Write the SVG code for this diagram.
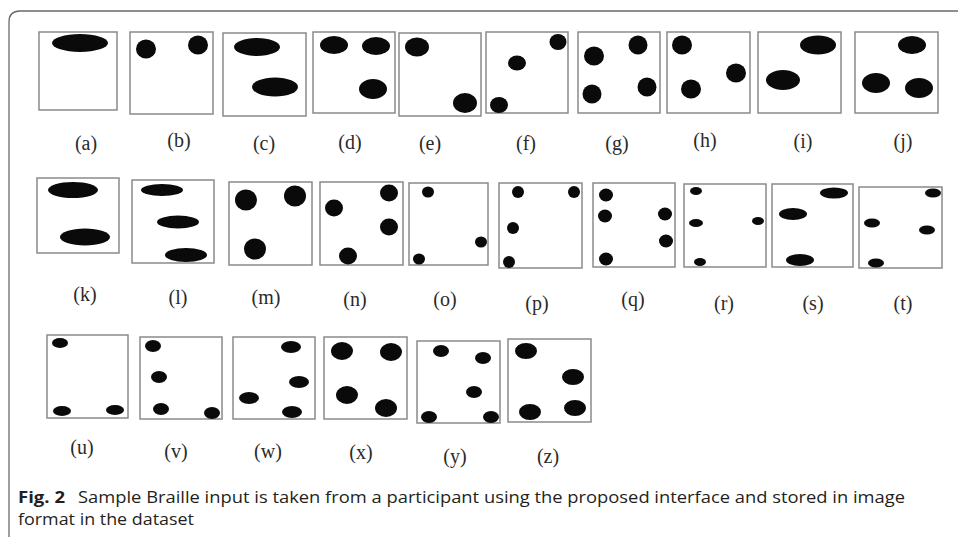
<svg xmlns="http://www.w3.org/2000/svg" width="958" height="537" viewBox="0 0 958 537">
<style>
.box{fill:#fff;stroke:#8a8a8a;stroke-width:1.5}
.dot{fill:#0a0a0a}
.lbl{font-family:"Liberation Serif","Times New Roman",serif;font-size:20px;fill:#2a2a2a;text-anchor:middle}
.cap{font-family:"Open Sans","Noto Sans",sans-serif;font-size:15.5px;fill:#231f20}
.frame{fill:none;stroke:#6a6a6a;stroke-width:1.3}
</style>
<rect width="958" height="537" fill="#fff"/>
<path class="frame" d="M9,537 V22 Q9,11 20,11 H958"/>
<!-- Row 1 -->
<g id="a"><rect class="box" x="39" y="32" width="78" height="78"/><ellipse class="dot" cx="80" cy="43" rx="28" ry="9"/><text class="lbl" x="86" y="150">(a)</text></g>
<g id="b"><rect class="box" x="130" y="32" width="83" height="82"/><ellipse class="dot" cx="146" cy="49" rx="10" ry="9.5"/><ellipse class="dot" cx="198" cy="45" rx="10" ry="9.5"/><text class="lbl" x="179" y="147">(b)</text></g>
<g id="c"><rect class="box" x="223" y="33" width="83" height="83"/><ellipse class="dot" cx="257" cy="47" rx="23" ry="9"/><ellipse class="dot" cx="275" cy="87" rx="23" ry="9.5"/><text class="lbl" x="264" y="150">(c)</text></g>
<g id="d"><rect class="box" x="313" y="32" width="82" height="81"/><ellipse class="dot" cx="334" cy="45" rx="14" ry="9"/><ellipse class="dot" cx="376" cy="46" rx="14" ry="9"/><ellipse class="dot" cx="373" cy="89" rx="14" ry="10"/><text class="lbl" x="350" y="149">(d)</text></g>
<g id="e"><rect class="box" x="399" y="33" width="82" height="83"/><ellipse class="dot" cx="417" cy="47" rx="12" ry="9.5"/><ellipse class="dot" cx="465" cy="103" rx="12" ry="10"/><text class="lbl" x="430" y="150">(e)</text></g>
<g id="f"><rect class="box" x="486" y="32" width="82" height="81"/><ellipse class="dot" cx="558" cy="42" rx="8.5" ry="8"/><ellipse class="dot" cx="517" cy="63" rx="9" ry="7.5"/><ellipse class="dot" cx="499" cy="105" rx="9" ry="8"/><text class="lbl" x="526" y="150">(f)</text></g>
<g id="g"><rect class="box" x="578" y="32" width="82" height="81"/><ellipse class="dot" cx="594" cy="56" rx="10" ry="9.5"/><ellipse class="dot" cx="638" cy="45" rx="9.5" ry="9.5"/><ellipse class="dot" cx="592" cy="94" rx="9.5" ry="9.5"/><ellipse class="dot" cx="647" cy="87" rx="9.5" ry="9.5"/><text class="lbl" x="617" y="150">(g)</text></g>
<g id="h"><rect class="box" x="667" y="32" width="83" height="81"/><ellipse class="dot" cx="682" cy="45" rx="10" ry="9.5"/><ellipse class="dot" cx="736" cy="73" rx="10" ry="9.5"/><ellipse class="dot" cx="691" cy="89" rx="10" ry="9.5"/><text class="lbl" x="705" y="147">(h)</text></g>
<g id="i"><rect class="box" x="758" y="32" width="83" height="81"/><ellipse class="dot" cx="818" cy="45" rx="18" ry="9.5"/><ellipse class="dot" cx="783" cy="80" rx="17" ry="10"/><text class="lbl" x="803" y="148">(i)</text></g>
<g id="j"><rect class="box" x="855" y="32" width="83" height="81"/><ellipse class="dot" cx="912" cy="45" rx="14" ry="9"/><ellipse class="dot" cx="876" cy="83" rx="14" ry="10"/><ellipse class="dot" cx="919" cy="88" rx="14" ry="10"/><text class="lbl" x="903" y="148">(j)</text></g>
<!-- Row 2 -->
<g id="k"><rect class="box" x="37" y="178" width="82" height="75"/><ellipse class="dot" cx="73" cy="190" rx="25" ry="8"/><ellipse class="dot" cx="85" cy="237" rx="25" ry="8.5"/><text class="lbl" x="85" y="301">(k)</text></g>
<g id="l"><rect class="box" x="132" y="180" width="82" height="83"/><ellipse class="dot" cx="162" cy="190" rx="21" ry="6"/><ellipse class="dot" cx="178" cy="222" rx="21" ry="6.5"/><ellipse class="dot" cx="186" cy="255" rx="21" ry="7"/><text class="lbl" x="178" y="304">(l)</text></g>
<g id="m"><rect class="box" x="229" y="182" width="83" height="83"/><ellipse class="dot" cx="246" cy="200" rx="11" ry="10.5"/><ellipse class="dot" cx="295" cy="196" rx="11" ry="10.5"/><ellipse class="dot" cx="255" cy="249" rx="11" ry="10.5"/><text class="lbl" x="266" y="304">(m)</text></g>
<g id="n"><rect class="box" x="320" y="182" width="83" height="83"/><ellipse class="dot" cx="334" cy="208" rx="9" ry="8.5"/><ellipse class="dot" cx="389" cy="193" rx="9" ry="8.5"/><ellipse class="dot" cx="389" cy="227" rx="9" ry="8.5"/><ellipse class="dot" cx="348" cy="256" rx="9" ry="8.5"/><text class="lbl" x="355" y="306">(n)</text></g>
<g id="o"><rect class="box" x="409" y="183" width="79" height="82"/><ellipse class="dot" cx="428" cy="192" rx="6" ry="5.5"/><ellipse class="dot" cx="481" cy="242" rx="6" ry="5.5"/><ellipse class="dot" cx="419" cy="259" rx="6" ry="5.5"/><text class="lbl" x="445" y="306">(o)</text></g>
<g id="p"><rect class="box" x="499" y="183" width="83" height="85"/><ellipse class="dot" cx="518" cy="192" rx="6" ry="6"/><ellipse class="dot" cx="574" cy="192" rx="6" ry="6"/><ellipse class="dot" cx="513" cy="228" rx="6" ry="6"/><ellipse class="dot" cx="509" cy="262" rx="6" ry="6"/><text class="lbl" x="537" y="310">(p)</text></g>
<g id="q"><rect class="box" x="593" y="183" width="82" height="84"/><ellipse class="dot" cx="606" cy="195" rx="7" ry="6.5"/><ellipse class="dot" cx="605" cy="216" rx="7" ry="6.5"/><ellipse class="dot" cx="606" cy="259" rx="7" ry="6.5"/><ellipse class="dot" cx="665" cy="214" rx="7" ry="6.5"/><ellipse class="dot" cx="666" cy="241" rx="7" ry="6.5"/><text class="lbl" x="633" y="306">(q)</text></g>
<g id="r"><rect class="box" x="684" y="184" width="82" height="83"/><ellipse class="dot" cx="696" cy="191" rx="6" ry="4"/><ellipse class="dot" cx="696" cy="223" rx="7" ry="4"/><ellipse class="dot" cx="758" cy="221" rx="6" ry="4"/><ellipse class="dot" cx="700" cy="262" rx="6" ry="4"/><text class="lbl" x="724" y="310">(r)</text></g>
<g id="s"><rect class="box" x="772" y="184" width="81" height="83"/><ellipse class="dot" cx="834" cy="193" rx="14" ry="5.5"/><ellipse class="dot" cx="793" cy="214" rx="14" ry="6"/><ellipse class="dot" cx="800" cy="260" rx="14" ry="6"/><text class="lbl" x="813" y="310">(s)</text></g>
<g id="t"><rect class="box" x="859" y="187" width="83" height="81"/><ellipse class="dot" cx="933" cy="193" rx="8" ry="4.5"/><ellipse class="dot" cx="872" cy="223" rx="8" ry="4.5"/><ellipse class="dot" cx="927" cy="230" rx="8" ry="4.5"/><ellipse class="dot" cx="876" cy="263" rx="8" ry="4.5"/><text class="lbl" x="903" y="310">(t)</text></g>
<!-- Row 3 -->
<g id="u"><rect class="box" x="47" y="335" width="81" height="83"/><ellipse class="dot" cx="60" cy="343" rx="8" ry="5"/><ellipse class="dot" cx="62" cy="411" rx="9" ry="5"/><ellipse class="dot" cx="115" cy="410" rx="9" ry="5"/><text class="lbl" x="82" y="454">(u)</text></g>
<g id="v"><rect class="box" x="140" y="337" width="82" height="82"/><ellipse class="dot" cx="153" cy="346" rx="8" ry="6"/><ellipse class="dot" cx="159" cy="377" rx="8" ry="6"/><ellipse class="dot" cx="161" cy="409" rx="8" ry="6"/><ellipse class="dot" cx="212" cy="413" rx="8" ry="6"/><text class="lbl" x="176" y="458">(v)</text></g>
<g id="w"><rect class="box" x="233" y="337" width="82" height="82"/><ellipse class="dot" cx="291" cy="347" rx="10" ry="6"/><ellipse class="dot" cx="299" cy="382" rx="10" ry="6"/><ellipse class="dot" cx="249" cy="398" rx="10" ry="6"/><ellipse class="dot" cx="292" cy="412" rx="10" ry="6"/><text class="lbl" x="268" y="458">(w)</text></g>
<g id="x"><rect class="box" x="324" y="337" width="83" height="82"/><ellipse class="dot" cx="342" cy="351" rx="11" ry="9"/><ellipse class="dot" cx="391" cy="352" rx="11" ry="9"/><ellipse class="dot" cx="347" cy="395" rx="11" ry="9"/><ellipse class="dot" cx="386" cy="408" rx="11" ry="9"/><text class="lbl" x="361" y="459">(x)</text></g>
<g id="y"><rect class="box" x="417" y="341" width="83" height="82"/><ellipse class="dot" cx="441" cy="351" rx="8" ry="6"/><ellipse class="dot" cx="483" cy="358" rx="8" ry="6"/><ellipse class="dot" cx="474" cy="392" rx="8" ry="6"/><ellipse class="dot" cx="429" cy="417" rx="8" ry="6"/><ellipse class="dot" cx="491" cy="417" rx="8" ry="6"/><text class="lbl" x="455" y="463">(y)</text></g>
<g id="z"><rect class="box" x="508" y="339" width="83" height="83"/><ellipse class="dot" cx="526" cy="351" rx="11" ry="8"/><ellipse class="dot" cx="573" cy="377" rx="11" ry="8"/><ellipse class="dot" cx="530" cy="412" rx="11" ry="8"/><ellipse class="dot" cx="575" cy="408" rx="11" ry="8"/><text class="lbl" x="548" y="463">(z)</text></g>
<g id="connectors"></g>
<!-- Caption -->
<g id="caption">
<text class="cap" x="18" y="503" font-weight="bold" textLength="47" lengthAdjust="spacingAndGlyphs">Fig. 2</text>
<text class="cap" x="78" y="503" textLength="827" lengthAdjust="spacingAndGlyphs">Sample Braille input is taken from a participant using the proposed interface and stored in image</text>
<text class="cap" x="18" y="525" textLength="176" lengthAdjust="spacingAndGlyphs">format in the dataset</text>
</g>
</svg>
